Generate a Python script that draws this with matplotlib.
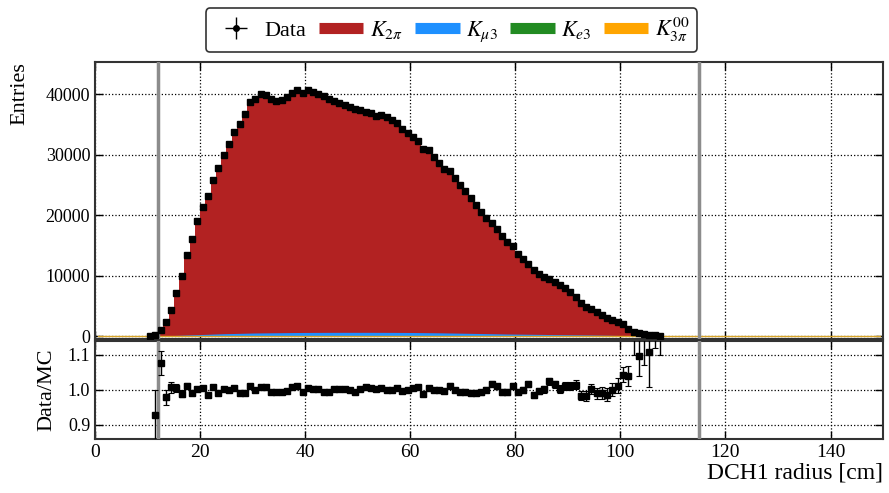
import matplotlib
matplotlib.use("Agg")
import matplotlib.pyplot as plt
import numpy as np
from matplotlib.lines import Line2D

plt.rcParams["font.family"] = ["Liberation Serif", "DejaVu Serif"]
plt.rcParams["mathtext.fontset"] = "stix"

# bin centres, 1 cm wide bins
r_centres = np.arange(10.5, 108.5, 1.0)

data_counts = [
    80, 250, 1100, 2370, 4400, 7100, 10000, 13370, 16070, 19090,
    21450, 23220, 25900, 27840, 29980, 31750, 33730, 35100, 36800, 38680,
    39270, 40000, 39880, 39220, 38950, 39060, 39500, 40270, 40710, 40270,
    40710, 40330, 40050, 39720, 39220, 38890, 38510, 38230, 37950, 37570,
    37360, 37130, 36860, 36420, 36630, 36250, 35760, 35210, 34270, 33560,
    32950, 32290, 30970, 30810, 29570, 28610, 27670, 27340, 26190, 25030,
    24090, 22940, 21730, 20580, 19470, 18650, 17720, 16500, 15580, 14850,
    13650, 12710, 12000, 10890, 10230, 9800, 9520, 9030, 8480, 7920,
    7330, 6440, 5560, 4900, 4520, 3960, 3530, 3040, 2640, 2380,
    2050, 1270, 730, 450, 330, 230, 170, 110,
]

ratio = [
    np.nan, 0.928, 1.076, 0.978, 1.007, 1.005, 0.989, 1.012, 0.992, 1.003,
    1.005, 0.984, 1.008, 0.990, 1.003, 0.999, 1.005, 0.990, 0.992, 1.012,
    0.998, 1.009, 1.007, 0.995, 0.995, 0.995, 0.996, 1.007, 1.012, 0.993,
    1.005, 1.003, 1.001, 0.995, 0.993, 1.003, 1.003, 1.001, 1.000, 0.995,
    1.003, 1.007, 1.005, 1.003, 1.004, 1.000, 1.000, 1.005, 0.997, 1.000,
    1.005, 1.008, 0.989, 1.005, 0.998, 1.000, 0.997, 1.012, 1.000, 0.993,
    0.995, 0.992, 0.992, 0.993, 1.000, 1.017, 1.010, 0.993, 0.993, 1.010,
    0.995, 1.000, 1.016, 0.986, 0.997, 1.002, 1.024, 1.016, 1.003, 1.010,
    1.011, 1.014, 0.983, 0.983, 1.002, 0.990, 0.990, 0.986, 1.000, 1.012,
    1.043, 1.040, 1.200, 1.095, 1.180, 1.108, 1.220, 1.250,
]

ratio_err = [
    0.0, 0.070, 0.033, 0.020, 0.015, 0.012, 0.010, 0.008, 0.007, 0.006,
    0.006, 0.006, 0.005, 0.005, 0.005, 0.005, 0.005, 0.005, 0.005, 0.005,
    0.005, 0.005, 0.005, 0.005, 0.005, 0.005, 0.005, 0.005, 0.005, 0.005,
    0.005, 0.005, 0.005, 0.005, 0.005, 0.005, 0.005, 0.005, 0.005, 0.005,
    0.005, 0.005, 0.005, 0.005, 0.005, 0.005, 0.005, 0.005, 0.005, 0.005,
    0.005, 0.005, 0.005, 0.005, 0.005, 0.006, 0.006, 0.006, 0.006, 0.006,
    0.006, 0.006, 0.007, 0.007, 0.007, 0.007, 0.007, 0.008, 0.008, 0.008,
    0.008, 0.008, 0.009, 0.009, 0.009, 0.010, 0.010, 0.010, 0.011, 0.011,
    0.012, 0.013, 0.013, 0.014, 0.015, 0.016, 0.017, 0.018, 0.019, 0.020,
    0.022, 0.028, 0.100, 0.055, 0.110, 0.100, 0.100, 0.150,
]

# small MC components (entries per bin)
kmu3 = [
    0, 0, 20, 50, 80, 110, 140, 170, 200, 230,
    260, 290, 320, 350, 380, 400, 420, 440, 460, 480,
    500, 510, 520, 530, 540, 550, 560, 570, 580, 585,
    590, 595, 600, 600, 605, 605, 610, 610, 610, 610,
    610, 610, 610, 605, 605, 600, 600, 595, 590, 585,
    580, 570, 560, 550, 540, 530, 520, 505, 490, 475,
    460, 445, 430, 415, 400, 385, 370, 355, 340, 330,
    320, 310, 300, 290, 280, 270, 260, 250, 240, 230,
    220, 210, 200, 190, 180, 170, 160, 150, 130, 110,
    90, 60, 40, 25, 15, 10, 5, 0,
]
ke3 = [
    0, 0, 5, 10, 10, 15, 15, 20, 20, 20,
    20, 20, 25, 25, 25, 25, 25, 25, 25, 25,
    25, 25, 25, 25, 25, 25, 25, 25, 25, 25,
    25, 25, 25, 25, 25, 25, 25, 25, 25, 25,
    25, 25, 25, 25, 25, 25, 25, 25, 25, 25,
    25, 25, 25, 25, 25, 25, 20, 20, 20, 20,
    20, 20, 20, 20, 20, 20, 20, 15, 15, 15,
    15, 15, 15, 15, 15, 15, 10, 10, 10, 10,
    10, 10, 10, 10, 10, 5, 5, 5, 5, 5,
    5, 5, 0, 0, 0, 0, 0, 0,
]
k3pi00 = [
    0, 0, 5, 5, 10, 10, 10, 10, 10, 10,
    10, 10, 10, 10, 10, 10, 10, 10, 10, 10,
    10, 10, 10, 10, 10, 10, 10, 10, 10, 10,
    10, 10, 10, 10, 10, 10, 10, 10, 10, 10,
    10, 10, 10, 10, 10, 10, 10, 10, 10, 10,
    10, 10, 10, 10, 10, 10, 10, 10, 10, 10,
    10, 10, 10, 10, 10, 10, 10, 10, 10, 10,
    10, 10, 10, 10, 10, 10, 10, 10, 10, 10,
    10, 10, 10, 10, 10, 10, 5, 5, 5, 5,
    5, 5, 5, 5, 0, 0, 0, 0,
]

cut_lines = [12, 115]
x_range = [0, 150]

colors = {
    "k2pi": "#b22222",
    "kmu3": "#1e90ff",
    "ke3": "#228b22",
    "k3pi00": "#ffa500",
}

counts = np.array(data_counts, dtype=float)
ratio = np.array(ratio)
ratio_err = np.array(ratio_err)

# MC total from data / ratio
ok = np.isfinite(ratio)
mc_total = np.zeros_like(counts)
mc_total[ok] = counts[ok] / ratio[ok]

# pad out to the full axis range with empty bins
edges = np.arange(x_range[0], x_range[1] + 1, 1.0)
centres_full = 0.5 * (edges[:-1] + edges[1:])
nb = len(edges) - 1
first = int(r_centres[0] - 0.5)


def pad(arr):
    out = np.zeros(nb)
    out[first:first + len(arr)] = arr
    return out


total_full = pad(mc_total)
cum_blue = pad(np.array(kmu3) + np.array(ke3) + np.array(k3pi00))
cum_green = pad(np.array(ke3) + np.array(k3pi00))
cum_orange = pad(np.array(k3pi00))

fig = plt.figure(figsize=(8.89, 4.93), dpi=100)
ax = fig.add_axes([0.1069, 1 - 339.0 / 493, 0.8864, (339.0 - 61.7) / 493])
axr = fig.add_axes([0.1069, 1 - 439.0 / 493, 0.8864, (439.0 - 340.5) / 493])

# stack: K2pi on top of the small channels
ax.stairs(total_full, edges, fill=True, color=colors["k2pi"], lw=0, zorder=2)
ax.fill_between(centres_full, 0, cum_blue, color=colors["kmu3"], lw=0, zorder=2.1)
ax.fill_between(centres_full, 0, cum_green, color=colors["ke3"], lw=0, zorder=2.2)
ax.fill_between(centres_full, 0, cum_orange, color=colors["k3pi00"], lw=0, zorder=2.3)
ax.plot(centres_full, cum_orange * 0, color="#d8a52a", lw=1.0, zorder=2.5)

ax.errorbar(r_centres, counts, yerr=np.sqrt(counts), xerr=0.5, fmt="s",
            color="black", ms=5, lw=1, capsize=0, zorder=4)

axr.errorbar(r_centres[ok], ratio[ok], yerr=ratio_err[ok], xerr=0.5, fmt="s",
             color="black", ms=4.5, lw=1, capsize=2.5, capthick=0.8, zorder=4)

for a in (ax, axr):
    for xc in cut_lines:
        a.axvline(xc, color="#8c8c8c", lw=2.5, zorder=3)
    a.set_xlim(x_range)
    a.grid(True, color="black", ls=":", lw=0.9)
    a.set_axisbelow(True)
    a.tick_params(direction="in", top=True, right=True, length=6,
                  width=1, labelsize=14)
    for sp in a.spines.values():
        sp.set_linewidth(1.5)
        sp.set_color("#333333")

ax.set_ylim(-460, 45400)
ax.set_yticks([0, 10000, 20000, 30000, 40000])
ax.set_xticks(np.arange(0, 151, 20))
ax.tick_params(labelbottom=False, labelsize=13)
ax.set_ylabel("Entries", fontsize=16, ha="right", y=1.0)
ax.yaxis.set_label_coords(-0.083, 1.0)

axr.set_ylim(0.86, 1.14)
axr.set_yticks([0.9, 1.0, 1.1])
axr.set_yticklabels(["0.9", "1.0", "1.1"], fontsize=13)
axr.set_xticks(np.arange(0, 141, 20))
axr.set_ylabel("Data/MC", fontsize=16)
axr.yaxis.set_label_coords(-0.049, 0.5)
axr.set_xlabel("DCH1 radius [cm]", fontsize=17, ha="right", x=1.0, labelpad=1)

data_handle = ax.errorbar([], [], yerr=[], xerr=[], fmt="o", color="black",
                          ms=4, lw=1, capsize=3)
handles = [
    data_handle,
    Line2D([], [], color=colors["k2pi"], lw=8, solid_capstyle="butt"),
    Line2D([], [], color=colors["kmu3"], lw=8, solid_capstyle="butt"),
    Line2D([], [], color=colors["ke3"], lw=8, solid_capstyle="butt"),
    Line2D([], [], color=colors["k3pi00"], lw=8, solid_capstyle="butt"),
]
labels = ["Data", r"$K_{2\pi}$", r"$K_{\mu3}$", r"$K_{e3}$", r"$K_{3\pi}^{00}$"]
leg = fig.legend(handles, labels, loc="center", bbox_to_anchor=(0.508, 0.939),
                 ncol=5, fontsize=16, frameon=True, fancybox=True,
                 edgecolor="black", handlelength=2.0, columnspacing=0.55,
                 handletextpad=0.3, borderpad=0.35)
leg.get_frame().set_linewidth(1.2)

fig.savefig("out.png", dpi=100)
